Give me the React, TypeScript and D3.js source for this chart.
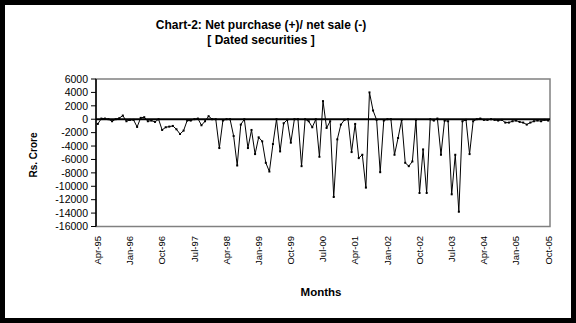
import React from "react";
import * as d3 from "d3";

const startYear = 1995;
const startMonth = 3; // April (0-based)
const netValues: number[] = [
  -700, 100, 100, 0, -300, 0, 150, 550, -300, -100,
  -100, -1150, 200, 300, -300, -200, -400, 0, -1600, -1200,
  -1100, -1000, -1500, -2200, -1700, -200, -200, 0, 100, -900,
  -300, 450, 0, 0, -4300, -200, 0, 0, -2500, -6900,
  -800, 0, -4300, -1600, -5200, -2700, -3300, -6500, -7800, -3700,
  0, -4800, -600, -100, -3500, 0, 0, -7000, 0, -300,
  -1200, 0, -5600, 2700, -1300, -300, -11600, -3000, -800, -100,
  0, -4900, -700, -5800, -5300, -10200, 4000, 1300, -100, -7900,
  -200, 0, 0, -5300, -2800, -100, -6500, -7000, -6300, -100,
  -11000, -4500, -11000, 0, -200, 100, -5300, -200, -300, -11200,
  -5300, -13800, -300, -100, -5200, -300, 0, 100, -100, -100,
  0, -100, -200, -100, -500, -500, -300, -200, -400, -500,
  -800, -500, -300, -200, -300, -100, -200,
];
const yTicks: number[] = [6000, 4000, 2000, 0, -2000, -4000, -6000, -8000, -10000, -12000, -14000, -16000];
const monthNames = ["Jan", "Feb", "Mar", "Apr", "May", "Jun", "Jul", "Aug", "Sep", "Oct", "Nov", "Dec"];
const labelEvery = 9;
const titleLines = ["Chart-2: Net purchase (+)/ net sale (-)", "[ Dated securities ]"];
const xTitle = "Months";
const yTitle = "Rs. Crore";

function monthLabel(i: number): string {
  const m = startMonth + i;
  const y = startYear + Math.floor(m / 12);
  return `${monthNames[m % 12]}-${String(y % 100).padStart(2, "0")}`;
}

export default function App() {
  const W = 576, H = 323;
  const left = 96, right = 550, top = 79, bottom = 226.5;
  const idx = netValues.map((_, i) => i);
  const x = d3.scaleBand<number>().domain(idx).range([left, right]).padding(0);
  const cx = (i: number) => (x(i) as number) + x.bandwidth() / 2;
  const y = d3.scaleLinear().domain([-16000, 6000]).range([bottom, top]);
  const line = d3.line<number>().x((_, i) => cx(i)).y((d) => y(d));
  const font = "'Liberation Sans', Arial, sans-serif";
  const labelIdx = idx.filter((i) => i % labelEvery === 0);

  return (
    <div style={{ position: "absolute", left: 0, top: 0 }}>
      <svg width={W} height={H} style={{ display: "block" }}>
        <rect x={0} y={0} width={W} height={H} fill="#000" />
        <rect x={5} y={5} width={566} height={313} fill="#fff" />
        {titleLines.map((t, k) => (
          <text key={k} x={261} y={29 + k * 15} textAnchor="middle" fontFamily={font} fontWeight="bold" fontSize={12} fill="#000">
            {t}
          </text>
        ))}
        {/* plot border */}
        <rect x={left} y={top} width={right - left} height={bottom - top} fill="none" stroke="#808080" strokeWidth={1.5} />
        {/* y axis */}
        <line x1={left} x2={left} y1={top} y2={bottom} stroke="#000" strokeWidth={1.5} />
        {yTicks.map((t) => (
          <g key={t}>
            <line x1={left - 5} x2={left} y1={y(t)} y2={y(t)} stroke="#000" strokeWidth={1} />
            <text x={left - 8} y={y(t) + 3.7} textAnchor="end" fontFamily={font} fontSize={10.5} fill="#000">
              {t}
            </text>
          </g>
        ))}
        {/* zero line */}
        <line x1={left} x2={right} y1={y(0)} y2={y(0)} stroke="#000" strokeWidth={1.8} />
        {/* data line */}
        <path d={line(netValues) || ""} fill="none" stroke="#000" strokeWidth={1} />
        {netValues.map((v, i) => (
          <rect key={i} x={cx(i) - 1} y={y(v) - 1} width={2} height={2} fill="#000" />
        ))}
        {/* x labels */}
        {labelIdx.map((i) => (
          <text
            key={i}
            transform={`translate(${cx(i) + 3.3},${236}) rotate(-90)`}
            textAnchor="end"
            fontFamily={font}
            fontSize={9.5}
            fill="#000"
          >
            {monthLabel(i)}
          </text>
        ))}
        <text x={321} y={296} textAnchor="middle" fontFamily={font} fontWeight="bold" fontSize={11.5} fill="#000">
          {xTitle}
        </text>
        <text transform={`translate(37,155) rotate(-90)`} textAnchor="middle" fontFamily={font} fontWeight="bold" fontSize={10} fill="#000">
          {yTitle}
        </text>
      </svg>
    </div>
  );
}
